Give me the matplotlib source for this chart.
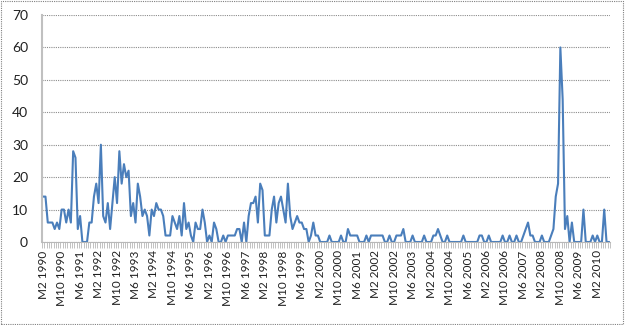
import matplotlib
matplotlib.use("Agg")
import matplotlib.pyplot as plt
from matplotlib.patches import Rectangle
import numpy as np

# monthly values, M2 1990 .. M7 2010
values = [
    14, 14, 6, 6, 6, 4, 6, 4, 10, 10, 6, 10, 6, 28, 26, 4, 8, 0, 0, 0,
    6, 6, 14, 18, 12, 30, 8, 6, 12, 4, 12, 20, 12, 28, 18, 24, 20, 22, 8, 12,
    6, 18, 14, 8, 10, 8, 2, 10, 8, 12, 10, 10, 8, 2, 2, 2, 8, 6, 4, 8,
    2, 12, 4, 6, 2, 0, 6, 4, 4, 10, 6, 0, 2, 0, 6, 4, 0, 0, 2, 0,
    2, 2, 2, 2, 4, 4, 0, 6, 0, 8, 12, 12, 14, 6, 18, 16, 2, 2, 2, 10,
    14, 6, 12, 14, 10, 6, 18, 8, 4, 6, 8, 6, 6, 4, 4, 0, 2, 6, 2, 2,
    0, 0, 0, 0, 2, 0, 0, 0, 0, 2, 0, 0, 4, 2, 2, 2, 2, 0, 0, 0,
    2, 0, 2, 2, 2, 2, 2, 2, 0, 0, 2, 0, 0, 2, 2, 2, 4, 0, 0, 0,
    2, 0, 0, 0, 0, 2, 0, 0, 0, 2, 2, 4, 2, 0, 0, 2, 0, 0, 0, 0,
    0, 0, 2, 0, 0, 0, 0, 0, 0, 2, 2, 0, 0, 2, 0, 0, 0, 0, 0, 2,
    0, 0, 2, 0, 0, 2, 0, 0, 2, 4, 6, 2, 2, 0, 0, 0, 2, 0, 0, 0,
    2, 4, 14, 18, 60, 44, 4, 8, 0, 6, 0, 0, 0, 0, 10, 0, 0, 0, 2, 0,
    2, 0, 0, 10, 0, 0,
]

tick_labels = [
    "M2 1990", "M10 1990", "M6 1991", "M2 1992", "M10 1992", "M6 1993",
    "M2 1994", "M10 1994", "M6 1995", "M2 1996", "M10 1996", "M6 1997",
    "M2 1998", "M10 1998", "M6 1999", "M2 2000", "M10 2000", "M6 2001",
    "M2 2002", "M10 2002", "M6 2003", "M2 2004", "M10 2004", "M6 2005",
    "M2 2006", "M10 2006", "M6 2007", "M2 2008", "M10 2008", "M6 2009",
    "M2 2010",
]
label_step = 8

plt.rcParams["font.family"] = ["Lato", "DejaVu Sans"]

fig = plt.figure(figsize=(6.25, 3.25), dpi=100)
ax = fig.add_axes([0.0672, 0.2554, 0.976 - 0.0672, 0.9538 - 0.2554])

x = np.arange(len(values))
ax.plot(x, values, color="#4a7ebb", linewidth=1.5)

ax.set_xlim(-0.5, len(values) - 0.5)
ax.set_ylim(0, 70)
ax.set_yticks(np.arange(0, 71, 10))
ax.set_xticks(np.arange(0, len(tick_labels) * label_step, label_step))
ax.set_xticklabels(tick_labels, rotation=90, fontsize=8.5, color="#202020")
ax.set_xticks(np.arange(-0.5, len(values), 1), minor=True)
ax.tick_params(axis="x", which="major", length=0, pad=6)
ax.tick_params(axis="x", which="minor", length=4, color="#b8b8b8", width=0.6)
ax.tick_params(axis="y", length=0, labelsize=10, colors="#202020", pad=10)

ax.grid(axis="y", color="#8c8c8c", linestyle=(0, (1, 1)), linewidth=0.8)
ax.set_axisbelow(True)
for s in ["top", "right"]:
    ax.spines[s].set_visible(False)
ax.spines["left"].set_color("#c0c0c0")
ax.spines["left"].set_linewidth(1.5)
ax.spines["bottom"].set_color("#b8b8b8")
ax.spines["bottom"].set_linewidth(0.8)

fig.patches.append(Rectangle((0.002, 0.003), 0.994, 0.994, transform=fig.transFigure,
                             fill=False, edgecolor="#808080", linewidth=0.8,
                             linestyle=(0, (1, 1))))

fig.savefig("out.png", dpi=100)
